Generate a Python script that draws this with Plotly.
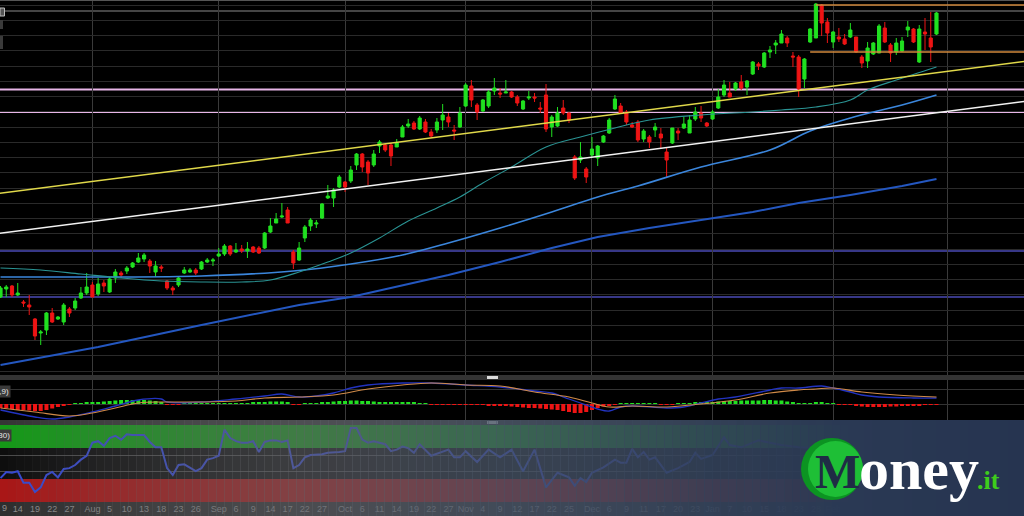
import plotly.graph_objects as go

W, H = 1024, 516

# ---------------- price candles (trading-day index 0..163) ----------------
opens = [103, 111, 114, 105, 98, 95, 81, 67, 70, 87,
         81, 78, 91, 92, 102, 107, 115, 106, 117, 108,
         122, 127, 129, 133, 138, 141, 139, 128, 133, 119,
         112, 115, 127, 128, 130, 131, 138, 139, 144, 146,
         154, 148, 151, 149, 153, 152, 152, 168, 177, 183,
         190, 148, 140, 162, 174, 176, 182, 202, 202, 213,
         218, 219, 235, 246, 238, 235, 254, 255, 255, 253,
         263, 274, 277, 271, 278, 268, 270, 280, 283, 270,
         273, 294, 314, 295, 289, 294, 309, 307, 307, 308,
         303, 291, 302, 303, 292, 305, 273, 274, 292, 287,
         243, 240, 231, 245, 242, 258, 267, 291, 294, 288,
         275, 278, 261, 263, 270, 266, 248, 257, 269, 272,
         267, 281, 287, 277, 281, 292, 305, 307, 311, 318,
         313, 326, 336, 333, 348, 355, 357, 362, 344, 343,
         321, 358, 362, 395, 378, 358, 363, 361, 363, 363,
         343, 339, 346, 347, 372, 355, 348, 349, 370, 371,
         338, 368, 362, 366]
highs = [114, 115, 115, 117, 100, 105, 82, 70, 88, 92,
         84, 97, 93, 102, 113, 127, 118, 122, 120, 123,
         131, 129, 134, 138, 147, 147, 141, 139, 135, 120,
         114, 123, 133, 132, 132, 139, 142, 142, 152, 156,
         155, 157, 155, 158, 154, 154, 168, 182, 187, 197,
         193, 150, 158, 175, 182, 180, 197, 215, 212, 225,
         219, 234, 247, 247, 240, 250, 260, 257, 257, 261,
         275, 281, 279, 284, 281, 271, 282, 296, 287, 275,
         293, 317, 320, 297, 301, 310, 322, 312, 320, 309,
         305, 300, 309, 307, 298, 316, 285, 293, 300, 288,
         245, 258, 233, 263, 255, 265, 282, 305, 297, 290,
         278, 280, 271, 265, 277, 272, 252, 272, 272, 283,
         285, 293, 294, 278, 290, 311, 320, 318, 318, 325,
         320, 339, 338, 348, 354, 360, 370, 364, 348, 345,
         342, 372, 397, 396, 382, 369, 372, 366, 377, 363,
         345, 358, 358, 376, 378, 357, 362, 363, 379, 372,
         375, 382, 388, 388]
lows = [102, 103, 103, 104, 93, 85, 60, 55, 65, 77,
        80, 75, 83, 90, 101, 105, 103, 104, 108, 107,
        117, 122, 126, 132, 137, 138, 127, 123, 128, 110,
        105, 113, 126, 127, 125, 130, 137, 134, 143, 144,
        144, 147, 147, 142, 147, 146, 151, 167, 177, 182,
        177, 131, 139, 158, 169, 172, 181, 201, 193, 212,
        208, 217, 230, 228, 215, 233, 247, 248, 234, 253,
        263, 272, 270, 270, 267, 262, 267, 270, 273, 260,
        272, 293, 293, 280, 288, 292, 305, 302, 307, 302,
        294, 290, 300, 298, 287, 268, 263, 273, 285, 277,
        220, 237, 217, 243, 234, 257, 266, 290, 286, 275,
        272, 258, 258, 252, 263, 252, 222, 256, 260, 271,
        267, 279, 278, 273, 280, 291, 303, 303, 309, 310,
        305, 325, 330, 332, 342, 346, 357, 353, 333, 303,
        312, 357, 362, 364, 357, 352, 358, 355, 362, 347,
        332, 332, 345, 347, 357, 338, 345, 348, 363, 357,
        337, 350, 338, 365]
closes = [112, 113, 105, 107, 97, 93, 64, 68, 87, 78,
          83, 95, 87, 99, 107, 113, 103, 116, 114, 121,
          128, 125, 132, 137, 142, 145, 134, 134, 132, 112,
          110, 122, 130, 130, 127, 138, 140, 140, 146, 154,
          146, 150, 149, 151, 148, 147, 167, 174, 181, 184,
          177, 137, 152, 173, 180, 177, 196, 204, 210, 223,
          213, 230, 246, 233, 227, 246, 258, 250, 244, 257,
          273, 276, 271, 282, 268, 264, 278, 285, 278, 269,
          287, 315, 300, 288, 300, 308, 312, 306, 308, 303,
          297, 299, 303, 302, 291, 271, 283, 287, 287, 280,
          222, 243, 223, 251, 254, 264, 280, 301, 287, 278,
          273, 260, 269, 258, 273, 262, 240, 272, 267, 276,
          280, 288, 282, 274, 288, 303, 315, 303, 317, 312,
          319, 338, 334, 347, 350, 357, 366, 357, 343, 311,
          341, 371, 396, 377, 367, 368, 361, 356, 370, 348,
          337, 352, 357, 374, 358, 347, 357, 359, 373, 358,
          371, 366, 353, 387]
days = list(range(len(opens)))

# ---------------- moving averages (day index, price) ----------------
sma20_x = [0, 7, 14, 21, 28, 35, 42, 47, 52, 57, 61, 66, 71, 76, 80,
           84, 89, 95, 101, 107, 113, 122, 131, 136, 142, 148, 151, 156, 163]
sma20_y = [132, 130, 126, 122, 119, 118, 118, 120, 128, 138, 147, 162, 179, 192, 203,
           217, 233, 253, 263, 272, 280, 285, 288, 290, 293, 300, 310, 320, 333]
sma50_x = [0, 17, 35, 51, 61, 70, 78, 87, 96, 104, 111, 122, 134, 141, 148, 157, 163]
sma50_y = [123, 123, 124, 129, 136, 145, 157, 172, 188, 203, 214, 233, 250, 269, 282, 295, 305]
sma200_x = [0, 17, 35, 52, 61, 78, 87, 96, 104, 113, 122, 131, 139, 148, 157, 163]
sma200_y = [35, 53, 75, 95, 103, 125, 138, 152, 163, 172, 180, 188, 197, 205, 214, 221]

# ---------------- drawn lines ----------------
yellow_x = [-1, 179]
yellow_y = [206, 339]
white_x = [-1, 179]
white_y = [166, 299]
pink_levels = [310.5, 288]
slate_levels = [149, 103]
gray_level = 389
orange_start = [142, 141]
orange_levels = [395, 348]

# ---------------- MACD ----------------
macd_hist = [-4, -4, -5, -6, -6, -6.5, -7, -7, -6, -4.5,
             -3, -1.5, -0.5, 1, 1, 1.5, 1.5, 2, 2.5, 3,
             3.5, 4, 4, 4, 4, 4, 3.5, 3, 2, -0.5,
             -0.5, -0.5, 0.5, 0.5, 1, 1, 1, 1, 1, 1,
             1, 1, 1, 1, 1.5, 2, 2, 2.5, 2.5, 2.5,
             1.5, -0.5, -0.5, 0.5, 0.5, 1, 1.5, 2, 2.5, 3,
             3, 3.5, 3.5, 3, 3, 2.5, 2, 2, 2, 1.5,
             1.5, 1.5, 1.5, 1, 1, -0.5, -0.5, -0.5, -0.5, -0.5,
             -0.5, -0.5, -1, -1, -1, -1.5, -1.5, -2, -2, -2.5,
             -3, -3.5, -4, -4, -4.5, -5, -5.5, -6, -7, -8,
             -9, -9, -8, -6, -4, -2.5, -1.5, -0.5, 0.5, 1,
             1, 0.5, 0.5, 0.5, 0.5, -0.5, -0.5, -0.5, 0.5, 1,
             1, 1.5, 1.5, 2, 2, 2.5, 3, 3, 3, 3.5,
             3.5, 3.5, 3.5, 4, 4, 3.5, 3.5, 2.5, 2, 1,
             0.5, 1, 1.5, 1.5, 1, 1, -0.5, -0.5, -1, -2,
             -2.5, -3, -3, -3, -3, -2.5, -2.5, -2, -2, -1.5,
             -1.5, -1, -1, -1]
macd_x = [0, 6, 9, 12, 16, 20, 24, 28, 29, 35, 41, 46, 49, 52, 55,
          58, 61, 64, 70, 75, 81, 87, 93, 96, 99, 101, 104, 106, 108, 110,
          116, 119, 122, 125, 128, 134, 136, 139, 143, 145, 148, 150, 153, 159, 163]
macd_y = [-6, -13, -15, -13, -8, -2, 4, 5, 2, 2, 5, 8, 10, 7, 8,
          11, 16, 19, 21, 21, 19, 17, 13, 11, 5, 1, -5, -7, -3, -2,
          -4, -3, 1, 5, 7, 14, 16, 16, 18, 16, 12, 9, 7, 6, 6]
signal_x = [0, 6, 12, 16, 20, 24, 29, 35, 41, 46, 52, 58, 64, 70, 75, 81,
            87, 93, 99, 103, 106, 110, 116, 122, 128, 134, 139, 142, 145, 150, 156, 163]
signal_y = [-4, -8, -12, -9, -4, 1, 2, 2, 3, 6, 7, 9, 15, 19, 21, 19,
            18, 12, 7, 1, -3, -2, -3, 0, 4, 11, 14, 15, 16, 12, 9, 7]

# ---------------- RSI ----------------
rsi_x = list(range(0, 55)) + [56, 57, 59, 60, 61, 62, 63, 64, 65,
                              67, 68, 69, 70, 71, 72, 73,
                              75, 78, 79, 80, 81, 83, 85, 87, 89, 91, 93, 95, 97, 99,
                              100, 101, 102, 103, 105, 107, 108, 109, 110, 111, 112, 113, 114,
                              116, 118, 120, 121, 122, 124, 126, 127, 129, 132, 136, 139, 143,
                              148, 153, 158, 163]
rsi_y = [31, 39, 38, 40, 25, 25, 13, 19, 35, 39, 32, 43, 44, 48, 55, 60, 77, 79, 73, 83,
         86, 81, 88, 87, 87, 87, 78, 71, 71, 44, 35, 48, 49, 45, 40, 44, 55, 57, 60, 94,
         83, 79, 77, 77, 79, 65, 78, 80, 80, 78, 80, 44, 48, 58, 61,
         62, 64, 65, 66, 96, 96, 81, 77, 79,
         75, 66, 68, 72, 70, 64, 75,
         60, 68, 58, 58, 66, 52, 68, 58, 68, 40, 68, 19, 38, 32,
         21, 31, 26, 38, 45, 55, 51, 51, 69, 58, 65, 55, 58,
         38, 44, 52, 64, 56, 61, 84, 74, 71, 80, 74, 71, 70,
         61, 65, 70, 76]

# ---------------- axis labels ----------------
first_label = "9"
tick_pos = [3, 6, 9, 12, 16, 19, 22, 25, 28, 31, 34, 38, 41, 44, 47, 50, 53, 56,
            60, 63, 66, 69, 72, 75, 78, 81, 84, 87, 90, 93, 96, 99, 103, 106, 109, 112,
            115, 118, 121, 124, 127, 130, 133, 136, 139, 142, 145, 148, 151, 154, 157, 160, 163]
tick_text = ["14", "19", "22", "27", "Aug", "5", "10", "13", "18", "23", "26", "Sep",
             "6", "9", "14", "17", "22", "27", "Oct", "6", "11", "14", "19", "22", "27", "Nov",
             "4", "9", "12", "17", "22", "25", "Dec", "6", "9", "11", "17", "20", "23", "Jan",
             "7", "10", "15", "18", "23", "28", "Feb", "6", "11", "14", "19", "24", "27"]
month_pos = [16, 38, 60, 81, 103, 124, 145, 165]

# ---------------- figure ----------------
def py(px):
    return 1 - px / H

def pxx(px):
    return px / W

xr = [-0.09, 178.24]
fig = go.Figure()

fig.add_trace(go.Scatter(x=sma200_x, y=sma200_y, mode="lines", line=dict(color="#2457c0", width=2),
                         xaxis="x", yaxis="y", hoverinfo="skip"))
fig.add_trace(go.Scatter(x=sma50_x, y=sma50_y, mode="lines", line=dict(color="#3b86dc", width=1.6, shape="spline"),
                         xaxis="x", yaxis="y", hoverinfo="skip"))
fig.add_trace(go.Scatter(x=sma20_x, y=sma20_y, mode="lines", line=dict(color="#2a9494", width=1.1, shape="spline"),
                         xaxis="x", yaxis="y", hoverinfo="skip"))
fig.add_trace(go.Scatter(x=yellow_x, y=yellow_y, mode="lines", line=dict(color="#e0d84a", width=1.5),
                         xaxis="x", yaxis="y", hoverinfo="skip"))
fig.add_trace(go.Scatter(x=white_x, y=white_y, mode="lines", line=dict(color="#f2f2f2", width=1.5),
                         xaxis="x", yaxis="y", hoverinfo="skip"))
fig.add_trace(go.Candlestick(x=days, open=opens, high=highs, low=lows, close=closes,
                             increasing=dict(line=dict(color="#20e020", width=1), fillcolor="#20e020"),
                             decreasing=dict(line=dict(color="#ee1414", width=1), fillcolor="#ee1414"),
                             whiskerwidth=0, xaxis="x", yaxis="y", hoverinfo="skip"))

fig.add_trace(go.Bar(x=days, y=macd_hist,
                     marker=dict(color=["#22e022" if v >= 0 else "#ee1414" for v in macd_hist], line=dict(width=0)),
                     xaxis="x2", yaxis="y2", hoverinfo="skip"))
fig.add_trace(go.Scatter(x=macd_x, y=macd_y, mode="lines", line=dict(color="#2233c0", width=1.3, shape="spline"),
                         xaxis="x2", yaxis="y2", hoverinfo="skip"))
fig.add_trace(go.Scatter(x=signal_x, y=signal_y, mode="lines", line=dict(color="#d08a48", width=1.1, shape="spline"),
                         xaxis="x2", yaxis="y2", hoverinfo="skip"))

fig.add_trace(go.Scatter(x=rsi_x, y=rsi_y, mode="lines", line=dict(color="#3448d8", width=2),
                         xaxis="x3", yaxis="y3", hoverinfo="skip"))

shapes = []
# RSI bands
shapes.append(dict(type="rect", xref="paper", yref="y3", x0=0, x1=1, y0=70, y1=100,
                   fillcolor="#119c14", line=dict(width=0), layer="below"))
shapes.append(dict(type="rect", xref="paper", yref="y3", x0=0, x1=1, y0=30, y1=70,
                   fillcolor="#0a0a0a", line=dict(width=0), layer="below"))
shapes.append(dict(type="rect", xref="paper", yref="y3", x0=0, x1=1, y0=0, y1=30,
                   fillcolor="#ad1313", line=dict(width=0), layer="below"))
# label strip
shapes.append(dict(type="rect", xref="paper", yref="paper", x0=0, x1=1, y0=0, y1=py(502),
                   fillcolor="#2c2c2c", line=dict(width=0), layer="below"))
# horizontal levels
for lv in pink_levels:
    shapes.append(dict(type="line", xref="paper", yref="y", x0=0, x1=1, y0=lv, y1=lv,
                       line=dict(color="#e8b6e8", width=2), layer="below"))
for lv in slate_levels:
    shapes.append(dict(type="line", xref="paper", yref="y", x0=0, x1=1, y0=lv, y1=lv,
                       line=dict(color="#4a4ab4", width=1.5), layer="below"))
shapes.append(dict(type="line", xref="paper", yref="y", x0=0, x1=1, y0=gray_level, y1=gray_level,
                   line=dict(color="#8a8a8a", width=1), layer="below"))
for xs, lv in zip(orange_start, orange_levels):
    shapes.append(dict(type="line", xref="x", yref="y", x0=xs, x1=182, y0=lv, y1=lv,
                       line=dict(color="#d0883c", width=1.6), layer="above"))
# top border and UI bits
shapes.append(dict(type="line", xref="paper", yref="paper", x0=0, x1=1, y0=py(0.5), y1=py(0.5),
                   line=dict(color="#555555", width=1), layer="above"))
shapes.append(dict(type="rect", xref="paper", yref="paper", x0=0, x1=pxx(4.5), y0=py(16), y1=py(8),
                   fillcolor="#555555", line=dict(color="#bbbbbb", width=1), layer="above"))
shapes.append(dict(type="rect", xref="paper", yref="paper", x0=0, x1=pxx(3), y0=py(29), y1=py(20),
                   fillcolor="#3a3a3a", line=dict(width=0), layer="above"))
shapes.append(dict(type="rect", xref="paper", yref="paper", x0=0, x1=pxx(3), y0=py(49), y1=py(36),
                   fillcolor="#3a3a3a", line=dict(width=0), layer="above"))
# dividers
for top, bot, hc in [(375, 380, "#dcdcdc"), (420, 425, "#c8c8c8")]:
    shapes.append(dict(type="rect", xref="paper", yref="paper", x0=0, x1=1, y0=py(bot), y1=py(top),
                       fillcolor="#333333", line=dict(width=0), layer="above"))
    shapes.append(dict(type="rect", xref="paper", yref="paper", x0=pxx(487), x1=pxx(498),
                       y0=py(bot - 1), y1=py(top + 1), fillcolor=hc, line=dict(width=0), layer="above"))

# translucent gradient overlay on the lower panel
ov_x = [0, 100, 200, 300, 400, 500, 600, 700, 800, 850, 1024]
ov_a = [0.04, 0.28, 0.45, 0.58, 0.68, 0.76, 0.83, 0.9, 0.96, 1.0, 1.0]
ov_c = [(100, 100, 100), (100, 100, 102), (99, 100, 104), (98, 100, 106), (85, 92, 104),
        (72, 84, 102), (62, 75, 96), (52, 66, 90), (45, 60, 86), (42, 57, 84), (38, 52, 80)]

def interp(xp):
    for k in range(len(ov_x) - 1):
        if ov_x[k] <= xp <= ov_x[k + 1]:
            t = (xp - ov_x[k]) / (ov_x[k + 1] - ov_x[k])
            a = ov_a[k] + t * (ov_a[k + 1] - ov_a[k])
            c = tuple(int(round(ov_c[k][j] + t * (ov_c[k + 1][j] - ov_c[k][j]))) for j in range(3))
            return a, c
    return ov_a[-1], ov_c[-1]

step = 8
for s in range(0, W, step):
    a, c = interp(s + step / 2)
    shapes.append(dict(type="rect", xref="paper", yref="paper", x0=pxx(s), x1=pxx(s + step + 0.6),
                       y0=0, y1=py(420), fillcolor="rgba(%d,%d,%d,%.3f)" % (c[0], c[1], c[2], a),
                       line=dict(width=0), layer="above"))

# logo circle
shapes.append(dict(type="circle", xref="paper", yref="paper", x0=pxx(801), x1=pxx(863), y0=py(500), y1=py(438),
                   fillcolor="#0c9422", line=dict(width=0), layer="above"))
shapes.append(dict(type="circle", xref="paper", yref="paper", x0=pxx(808), x1=pxx(863), y0=py(497), y1=py(441),
                   fillcolor="rgba(36,206,62,0.75)", line=dict(width=0), layer="above"))

annotations = [
    dict(text="MACD(12,26,9)", x=pxx(11), y=py(391), xref="paper", yref="paper", xanchor="right",
         yanchor="middle", showarrow=False, bgcolor="#3a3a3a", borderpad=1,
         font=dict(family="Liberation Sans", size=8, color="#e6e6e6")),
    dict(text="RSI(14,70,30)", x=pxx(12), y=py(435), xref="paper", yref="paper", xanchor="right",
         yanchor="middle", showarrow=False, bgcolor="#3a3a3a", borderpad=1,
         font=dict(family="Liberation Sans", size=8, color="#e6e6e6")),
    dict(text=first_label, x=0, y=py(508), xref="paper", yref="paper", xanchor="left",
         yanchor="middle", showarrow=False,
         font=dict(family="Liberation Sans", size=9, color="#8e8e8e")),
    dict(text="<b>M</b>", x=pxx(837), y=py(471), xref="paper", yref="paper", xanchor="center",
         yanchor="middle", showarrow=False,
         font=dict(family="Liberation Serif", size=48, color="#1f2c45")),
    dict(text="<b>oney</b>", x=pxx(857), y=py(469), xref="paper", yref="paper", xanchor="left",
         yanchor="middle", showarrow=False,
         font=dict(family="Liberation Serif", size=60, color="#ffffff")),
    dict(text="<b>.it</b>", x=pxx(975), y=py(480), xref="paper", yref="paper", xanchor="left",
         yanchor="middle", showarrow=False,
         font=dict(family="Liberation Serif", size=26, color="#3ecc1c")),
]

grid_x = dict(range=xr, showticklabels=False, tickmode="array", tickvals=month_pos, showgrid=True,
              gridcolor="#3a3a3a", gridwidth=1, zeroline=False, showline=False, ticks="",
              rangeslider=dict(visible=False))

fig.update_layout(
    width=W, height=H, margin=dict(l=0, r=0, t=0, b=0),
    paper_bgcolor="#000000", plot_bgcolor="#000000", showlegend=False,
    bargap=0.3, boxgap=0.22, hovermode=False,
    xaxis=dict(domain=[0, 1], anchor="y", **grid_x),
    xaxis2=dict(domain=[0, 1], anchor="y2", **grid_x),
    xaxis3=dict(domain=[0, 1], anchor="y3", range=xr, tickmode="array", tickvals=tick_pos, ticktext=tick_text,
                showgrid=False, zeroline=False, showline=False, ticks="", ticklen=0,
                tickfont=dict(family="Liberation Sans", size=9, color="#8e8e8e"),
                rangeslider=dict(visible=False)),
    yaxis=dict(domain=[py(375), 1], range=[25, 400], tickmode="linear", tick0=395, dtick=15.25,
               showticklabels=False, showgrid=True, gridcolor="#2a2a2a", zeroline=False, ticks=""),
    yaxis2=dict(domain=[py(420), py(380)], range=[-16, 24], tickmode="array", tickvals=[15, 0],
                showticklabels=False, showgrid=True, gridcolor="#333333", zeroline=False, ticks=""),
    yaxis3=dict(domain=[py(502), py(425)], range=[0, 100], tickmode="array", tickvals=[40, 60],
                showticklabels=False, showgrid=True, gridcolor="#4a4a4a", zeroline=False, ticks=""),
    shapes=shapes, annotations=annotations,
)

fig.write_html("out.html", config={"displayModeBar": False},
               post_script="document.body.style.margin='0';document.body.style.overflow='hidden';")
